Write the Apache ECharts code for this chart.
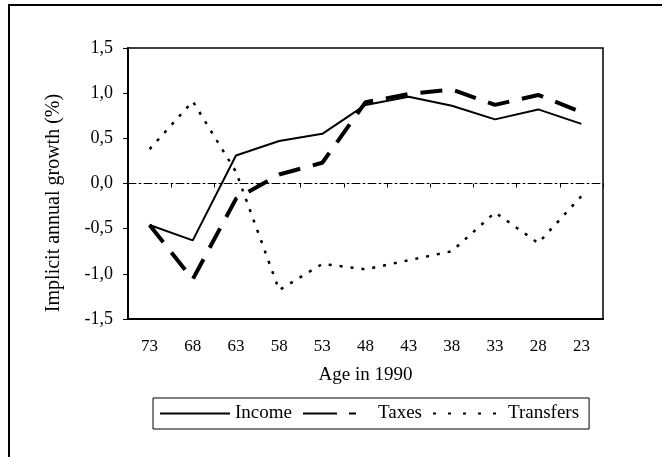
<!DOCTYPE html>
<html>
<head>
<meta charset="utf-8">
<script src="https://cdn.jsdelivr.net/npm/echarts@6/dist/echarts.min.js"></script>
<style>
  html, body { margin: 0; padding: 0; background: #fff; }
  #chart { width: 662px; height: 457px; }
</style>
</head>
<body>
<div id="chart"></div>
<script>
// age in 1990
const ages = ['73', '68', '63', '58', '53', '48', '43', '38', '33', '28', '23'];
// implicit annual growth (%)
const income = [-0.46, -0.63, 0.31, 0.47, 0.55, 0.87, 0.96, 0.86, 0.71, 0.82, 0.66];
const taxes = [-0.46, -1.06, -0.17, 0.10, 0.23, 0.90, 0.99, 1.04, 0.87, 0.98, 0.79];
const transfers = [0.38, 0.91, 0.13, -1.18, -0.89, -0.95, -0.85, -0.75, -0.32, -0.66, -0.14];

const serif = '"Liberation Serif", "DejaVu Serif", serif';
const comma = v => v.toFixed(1).replace('.', ',');

const chart = echarts.init(document.getElementById('chart'), null, {renderer: 'canvas'});

chart.setOption({
  animation: false,
  backgroundColor: '#fff',
  textStyle: {fontFamily: serif, color: '#000'},
  grid: {
    left: 128, right: 59, top: 48, bottom: 138,
    show: true,
    borderColor: '#000',
    borderWidth: 1.5
  },
  graphic: [
    {
      // outer frame, only top and left edges are in the scan
      type: 'rect',
      shape: {x: 9, y: 5, width: 700, height: 500},
      style: {fill: null, stroke: '#000', lineWidth: 2}
    },
    {
      type: 'text',
      x: 54, y: 203,
      rotation: Math.PI / 2,
      style: {
        text: 'Implicit annual growth (%)',
        font: '20px ' + serif,
        fill: '#000',
        align: 'center',
        verticalAlign: 'middle'
      }
    }
  ],
  legend: {
    data: [
      {name: 'Income'},
      {name: 'Taxes', lineStyle: {type: [34, 12, 7, 20]}},
      {name: 'Transfers', lineStyle: {type: [3, 12]}}
    ],
    left: 153, top: 398,
    padding: [6, 10, 6, 6],
    borderColor: '#000',
    borderWidth: 1,
    itemWidth: 70,
    itemHeight: 10,
    itemGap: 10,
    itemStyle: {opacity: 0},
    textStyle: {fontFamily: serif, fontSize: 19, color: '#000'}
  },
  xAxis: [
    {
      type: 'category',
      data: ages,
      boundaryGap: true,
      name: 'Age in 1990',
      nameLocation: 'middle',
      nameGap: 47,
      nameTextStyle: {fontFamily: serif, fontSize: 19, color: '#000'},
      axisLine: {onZero: false, lineStyle: {color: '#000', width: 2}},
      axisTick: {show: false},
      axisLabel: {fontFamily: serif, fontSize: 17, color: '#000', margin: 19}
    },
    {
      // zero line with category tick marks
      type: 'category',
      data: ages,
      boundaryGap: true,
      position: 'bottom',
      axisLine: {onZero: true, lineStyle: {color: '#000', width: 1, type: [8, 3, 2, 3]}},
      axisTick: {show: true, length: 4, lineStyle: {color: '#000'}},
      axisLabel: {show: false}
    }
  ],
  yAxis: {
    type: 'value',
    min: -1.5, max: 1.5, interval: 0.5,
    axisLine: {show: true, lineStyle: {color: '#000', width: 2}},
    axisTick: {show: true, length: 5, lineStyle: {color: '#000'}},
    splitLine: {show: false},
    axisLabel: {fontFamily: serif, fontSize: 18, color: '#000', margin: 15, formatter: comma}
  },
  series: [
    {
      name: 'Income',
      type: 'line',
      data: income,
      symbol: 'none',
      itemStyle: {color: '#000'},
      lineStyle: {color: '#000', width: 2}
    },
    {
      name: 'Taxes',
      type: 'line',
      data: taxes,
      symbol: 'none',
      itemStyle: {color: '#000'},
      lineStyle: {color: '#000', width: 4, type: [22, 13]}
    },
    {
      name: 'Transfers',
      type: 'line',
      data: transfers,
      symbol: 'none',
      itemStyle: {color: '#000'},
      lineStyle: {color: '#000', width: 2.5, type: [3, 8]}
    }
  ]
});
</script>
</body>
</html>
